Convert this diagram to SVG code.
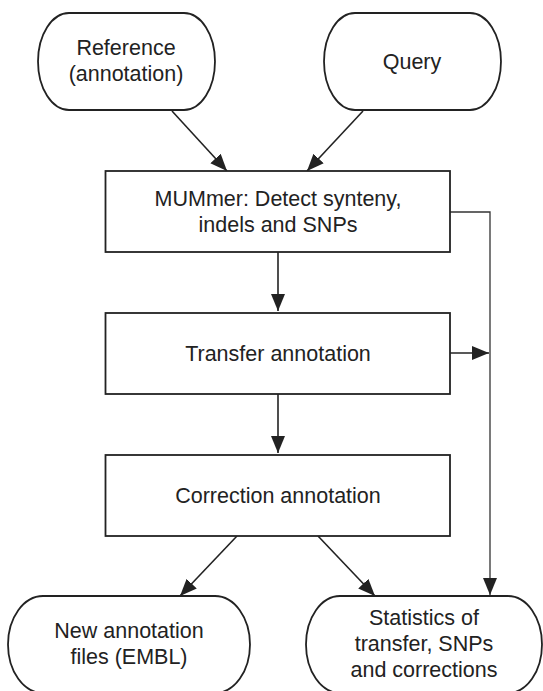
<svg xmlns="http://www.w3.org/2000/svg" width="543" height="691" viewBox="0 0 543 691">
<style>
.n{fill:#fff;stroke:#222;stroke-width:1.8}
.t{font-family:"Liberation Sans",Arial,sans-serif;font-size:21.5px;fill:#222;text-anchor:middle}
.c{fill:none;stroke:#222;stroke-width:1.6}
.thin{fill:none;stroke:#333;stroke-width:1.3}
</style>
<defs>
<marker id="ah" markerUnits="userSpaceOnUse" markerWidth="18" markerHeight="15" refX="17" refY="7" orient="auto">
<path d="M0,0 L17,7 L0,14 Z" fill="#222"/>
</marker>
</defs>
<rect width="543" height="691" fill="#fff"/>
<g id="connectors">
<line class="c" x1="172" y1="111" x2="227" y2="171" marker-end="url(#ah)"/>
<line class="c" x1="363" y1="111" x2="307" y2="171" marker-end="url(#ah)"/>
<line class="c" x1="278" y1="252" x2="278" y2="311" marker-end="url(#ah)"/>
<line class="c" x1="278" y1="394" x2="278" y2="453" marker-end="url(#ah)"/>
<line class="c" x1="450" y1="353" x2="489" y2="353" marker-end="url(#ah)"/>
<path class="thin" d="M450,212 H490 V595" marker-end="url(#ah)"/>
<line class="c" x1="237" y1="536" x2="180" y2="596" marker-end="url(#ah)"/>
<line class="c" x1="318" y1="536" x2="375" y2="596" marker-end="url(#ah)"/>
</g>
<g id="reference">
<path class="n" d="M69,13 H184 A31 48.5 0 0 1 184,110 H69 A31 48.5 0 0 1 69,13 Z"/>
<text class="t" x="126" y="55">Reference</text>
<text class="t" x="126" y="81">(annotation)</text>
</g>
<g id="query">
<path class="n" d="M355,13 H470 A31 48.5 0 0 1 470,110 H355 A31 48.5 0 0 1 355,13 Z"/>
<text class="t" x="412" y="69">Query</text>
</g>
<g id="mummer">
<rect class="n" x="105.5" y="171" width="344.5" height="81"/>
<text class="t" x="278" y="206">MUMmer: Detect synteny,</text>
<text class="t" x="278" y="232">indels and SNPs</text>
</g>
<g id="transfer">
<rect class="n" x="105.5" y="313" width="344.5" height="81"/>
<text class="t" x="278" y="361">Transfer annotation</text>
</g>
<g id="correction">
<rect class="n" x="105.5" y="455" width="344.5" height="81"/>
<text class="t" x="278" y="503">Correction annotation</text>
</g>
<g id="newfiles">
<path class="n" d="M43,596 H215 A35 48.5 0 0 1 215,693 H43 A35 48.5 0 0 1 43,596 Z"/>
<text class="t" x="129" y="638">New annotation</text>
<text class="t" x="129" y="664">files (EMBL)</text>
</g>
<g id="statistics">
<path class="n" d="M340,596 H508 A34 48.5 0 0 1 508,693 H340 A34 48.5 0 0 1 340,596 Z"/>
<text class="t" x="424" y="625">Statistics of</text>
<text class="t" x="424" y="651">transfer, SNPs</text>
<text class="t" x="424" y="677">and corrections</text>
</g>
</svg>
